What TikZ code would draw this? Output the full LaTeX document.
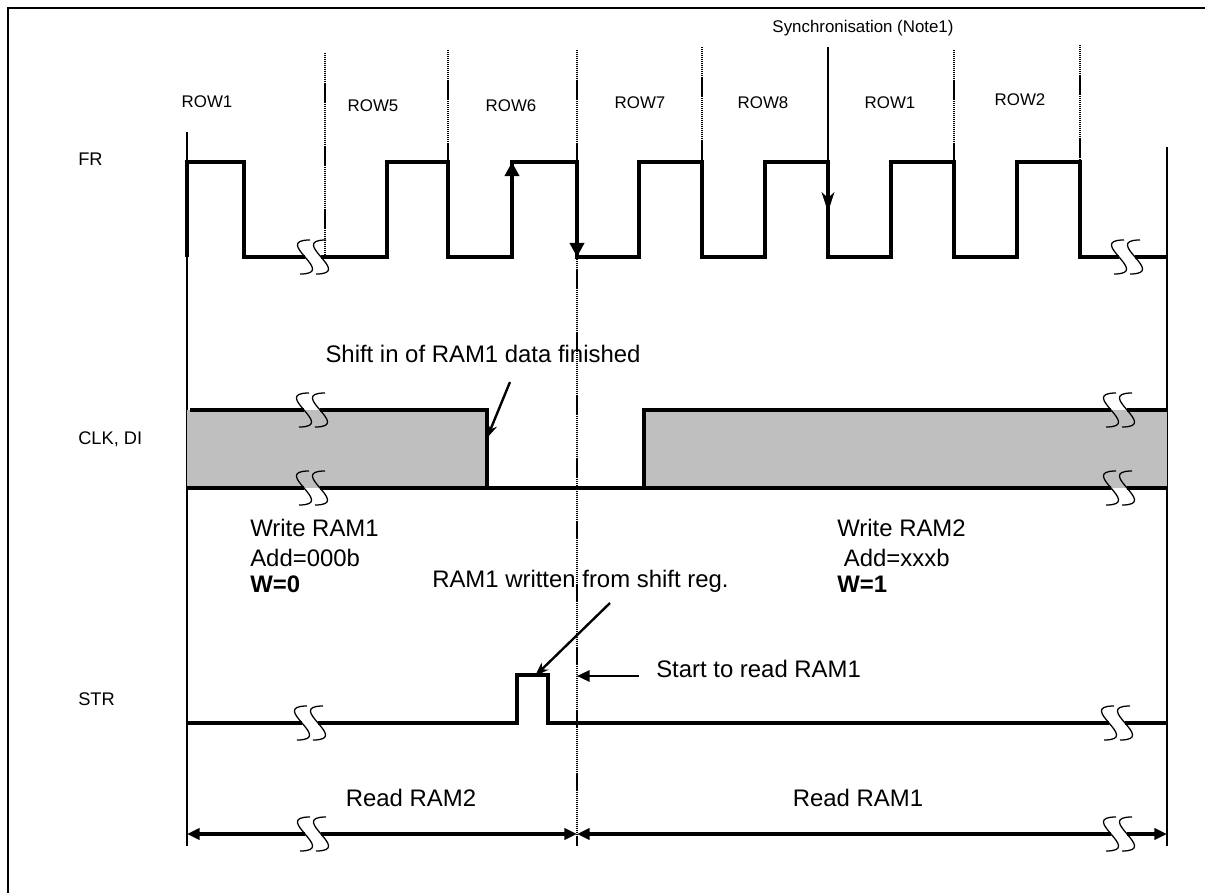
\documentclass[tikz,border=0pt]{standalone}
\usepackage{fontspec}
\setmainfont{Liberation Sans}
\usetikzlibrary{arrows.meta}

\tikzset{
  wave/.style={line width=2.5pt},
  limit/.style={line width=0.9pt},
  rowsep/.style={dash pattern=on 0.9pt off 0.5pt, line width=1pt},
  brk/.style={line width=0.9pt},
  bus/.style={fill=gray!50},
  note/.style={font=\fontsize{17}{20}\selectfont},
  sig/.style={font=\fontsize{13}{15}\selectfont},
  rowlbl/.style={font=\fontsize{12}{14}\selectfont},
  pointer/.style={line width=1.7pt, -{Stealth[length=10pt,width=7pt]}},
  span/.style={line width=2.2pt},
}

% break mark: two S strokes, line erased in between (#3 above, #4 below)
\newcommand{\sqbreak}[4]{%
  \fill[#3] (#1-8,#2-3) rectangle (#1+8,#2);
  \fill[#4] (#1-8,#2) rectangle (#1+8,#2+3);
  \draw[brk] (#1-3,#2-17) .. controls (#1-42,#2-17) and (#1+26,#2+17) .. (#1-13,#2+17);
  \draw[brk] (#1+13,#2-17) .. controls (#1-26,#2-17) and (#1+42,#2+17) .. (#1+3,#2+17);
}

\begin{document}
\begin{tikzpicture}[x=0.025cm, y=-0.025cm, every node/.style={inner sep=0pt},
  >={Triangle[length=9pt,width=8pt]}]
  \useasboundingbox (0,0) rectangle (1205,893);
  % frame
  \draw[line width=1.6pt] (8,910) -- (8,8) -- (1215,8);

  % time limits and row boundaries
  \draw[limit] (187,132) -- (187,846);
  \draw[limit] (1167,147) -- (1167,846);
  \draw[rowsep] (325,53) -- (325,257);
  \draw[rowsep] (448,50) -- (448,162);
  \draw[rowsep] (577,50) -- (577,846);
  \draw[rowsep] (702,47) -- (702,162);
  \draw[rowsep] (954,50) -- (954,162);
  \draw[rowsep] (1080,45) -- (1080,162);

  % row labels
  \node[rowlbl, anchor=base] (rowa) at (207,108) {ROW1};
  \node[rowlbl, anchor=base] (rowe) at (373,112) {ROW5};
  \node[rowlbl, anchor=base] (rowf) at (511,112) {ROW6};
  \node[rowlbl, anchor=base] (rowg) at (640,109) {ROW7};
  \node[rowlbl, anchor=base] (rowh) at (763,109) {ROW8};
  \node[rowlbl, anchor=base] (rowb) at (890,109) {ROW1};
  \node[rowlbl, anchor=base] (rowc) at (1020,106) {ROW2};

  % signal names
  \node[sig, anchor=base west] (fr) at (78,166) {FR};
  \node[sig, anchor=base west] (clk) at (78,444) {CLK, DI};
  \node[sig, anchor=base west] (str) at (78,705) {STR};

  % FR
  \draw[wave] (187,257) -- (187,162) -- (244,162) -- (244,257) -- (387,257)
    -- (387,162) -- (448,162) -- (448,257) -- (512,257) -- (512,162)
    -- (577,162) -- (577,257) -- (639,257) -- (639,162) -- (702,162)
    -- (702,257) -- (765,257) -- (765,162) -- (828,162) -- (828,257)
    -- (891,257) -- (891,162) -- (954,162) -- (954,257) -- (1017,257)
    -- (1017,162) -- (1080,162) -- (1080,257) -- (1167,257);
  \draw[line width=3.2pt, -{Triangle[length=10pt,width=10pt]}] (512,257) -- (512,162);
  \draw[line width=3.2pt, -{Triangle[length=10pt,width=10pt]}] (577,162) -- (577,257);

  % synchronisation
  \node[rowlbl, anchor=base] (sync) at (863,33) {Synchronisation (Note1)};
  \coordinate (synctail) at (828,47);
  \coordinate (synctip) at (828,212);
  \draw[line width=2pt, -{Stealth[length=14pt,width=9pt,inset=4pt]}] (synctail) -- (synctip);

  % CLK, DI
  \fill[bus] (187,410) rectangle (487,488);
  \fill[bus] (644,410) rectangle (1167,488);
  \draw[wave] (190,410) -- (487,410) -- (487,488);
  \draw[wave] (1167,410) -- (644,410) -- (644,488);
  \draw[wave] (187,488) -- (1167,488);

  % STR
  \draw[wave] (187,723) -- (517,723) -- (517,675) -- (548,675) -- (548,723) -- (1167,723);

  % read periods
  \coordinate (lft) at (187,834);
  \coordinate (mid) at (577,834);
  \coordinate (rgt) at (1167,834);
  \draw[span, <->] (lft) -- (mid);
  \draw[span, <->] (mid) -- (rgt);
  \node[note, anchor=base] (rdb) at (411,806) {Read RAM2};
  \node[note, anchor=base] (rda) at (858,806) {Read RAM1};

  % breaks
  \sqbreak{313}{257}{white}{white}
  \sqbreak{1127}{257}{white}{white}
  \sqbreak{312}{410}{white}{gray!50}
  \sqbreak{312}{488}{gray!50}{white}
  \sqbreak{1119}{410}{white}{gray!50}
  \sqbreak{1119}{488}{gray!50}{white}
  \sqbreak{310}{723}{white}{white}
  \sqbreak{1117}{723}{white}{white}
  \sqbreak{313}{834}{white}{white}
  \sqbreak{1119}{834}{white}{white}

  % notes
  \node[note, anchor=base] (shiftin) at (483,362) {Shift in of RAM1 data finished};
  \coordinate (shifttail) at (510,382);
  \coordinate (shifttip) at (487,438);
  \draw[pointer] (shifttail) -- (shifttip);

  \node[note, anchor=base west] (wra) at (250,536) {Write RAM1};
  \node[note, anchor=base west] (adda) at (250,566) {Add=000b};
  \node[note, anchor=base west] (wza) at (250,592) {\textbf{W=0}};

  \node[note, anchor=base west] (wrb) at (837,536) {Write RAM2};
  \node[note, anchor=base west] (addb) at (837,566) {\ Add=xxxb};
  \node[note, anchor=base west] (wzb) at (837,592) {\textbf{W=1}};

  \node[note, anchor=base west] (ramwr) at (432,587) {RAM1 written from shift reg.};
  \coordinate (ramwrtail) at (610,603);
  \coordinate (ramwrtip) at (535,676);
  \draw[pointer] (ramwrtail) -- (ramwrtip);

  \node[note, anchor=base west] (rdstart) at (656,677) {Start to read RAM1};
  \coordinate (rdtail) at (639,676);
  \coordinate (rdtip) at (577,676);
  \draw[line width=1.7pt, ->] (rdtail) -- (rdtip);
\end{tikzpicture}
\end{document}
